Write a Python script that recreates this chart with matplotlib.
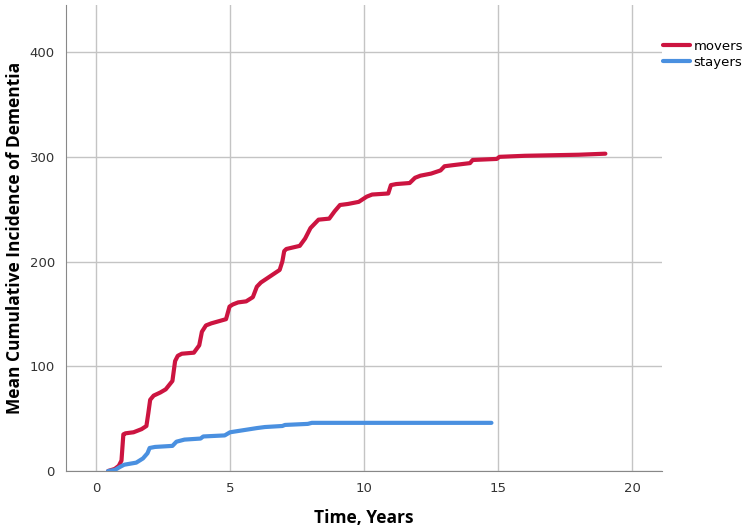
import matplotlib
matplotlib.use("Agg")
import matplotlib.pyplot as plt

# values
movers_t = [0.45, 0.7, 0.85, 0.95, 1.02, 1.1, 1.4, 1.7, 1.88, 1.95, 2.02, 2.15, 2.4, 2.6,
            2.85, 2.95, 3.05, 3.2, 3.65, 3.85, 3.95, 4.1, 4.3, 4.85, 4.98, 5.1, 5.3, 5.6,
            5.85, 6.0, 6.15, 6.5, 6.85, 6.95, 7.02, 7.1, 7.6, 7.8, 8.0, 8.3, 8.7, 8.9, 9.1,
            9.4, 9.8, 10.1, 10.3, 10.9, 11.0, 11.2, 11.7, 11.9, 12.1, 12.5, 12.85, 13.0,
            13.3, 13.95, 14.05, 14.95, 15.05, 16.0, 17.0, 18.0, 19.0]
movers_y = [0, 2, 5, 10, 35, 36, 37, 40, 43, 55, 68, 72, 75, 78,
            86, 105, 110, 112, 113, 120, 133, 139, 141, 145, 157, 159, 161, 162,
            166, 176, 180, 186, 192, 200, 210, 212, 215, 222, 232, 240, 241, 248, 254,
            255, 257, 262, 264, 265, 273, 274, 275, 280, 282, 284, 287, 291,
            292, 294, 297, 298, 300, 301, 301.5, 302, 303]

stayers_t = [0.45, 0.7, 0.9, 1.05, 1.5, 1.75, 1.92, 2.0, 2.2, 2.85, 3.0, 3.3, 3.9, 4.0,
             4.8, 5.0, 5.5, 6.0, 6.3, 6.95, 7.05, 7.9, 8.05, 14.75]
stayers_y = [0, 1, 4, 6, 8, 12, 17, 22, 23, 24, 28, 30, 31, 33,
             34, 37, 39, 41, 42, 43, 44, 45, 46, 46]

x_ticks = [0, 5, 10, 15, 20]
y_ticks = [0, 100, 200, 300, 400]

fig = plt.figure(figsize=(7.55, 5.29), dpi=100)
ax = fig.add_axes([0.0874, 0.1096, 0.789, 0.881])

ax.plot(movers_t, movers_y, color="#cc1440", lw=3.0, label="movers", solid_capstyle="round", zorder=3)
ax.plot(stayers_t, stayers_y, color="#4a90e0", lw=3.0, label="stayers", solid_capstyle="round", zorder=3)

ax.set_xlim(-1.12, 21.1)
ax.set_ylim(0, 445)
ax.set_xticks(x_ticks)
ax.set_yticks(y_ticks)
ax.grid(True, color="#c4c4c4", lw=1)
ax.set_axisbelow(True)
ax.tick_params(length=0, labelsize=9.5, colors="#333333", pad=8)
for s in ["top", "right"]:
    ax.spines[s].set_visible(False)
for s in ["left", "bottom"]:
    ax.spines[s].set_color("#888888")

ax.set_xlabel("Time, Years", fontsize=12.5, fontweight="bold", family="Open Sans", labelpad=10)
ax.set_ylabel("Mean Cumulative Incidence of Dementia", fontsize=12.5, fontweight="bold",
              family="Open Sans", labelpad=4)

ax.legend(loc="upper left", bbox_to_anchor=(0.863, 0.947), bbox_transform=fig.transFigure,
          frameon=False, fontsize=9.5, handlelength=2.0, handletextpad=0.3,
          labelspacing=0.2)

fig.savefig("out.png", dpi=100, facecolor="white")
